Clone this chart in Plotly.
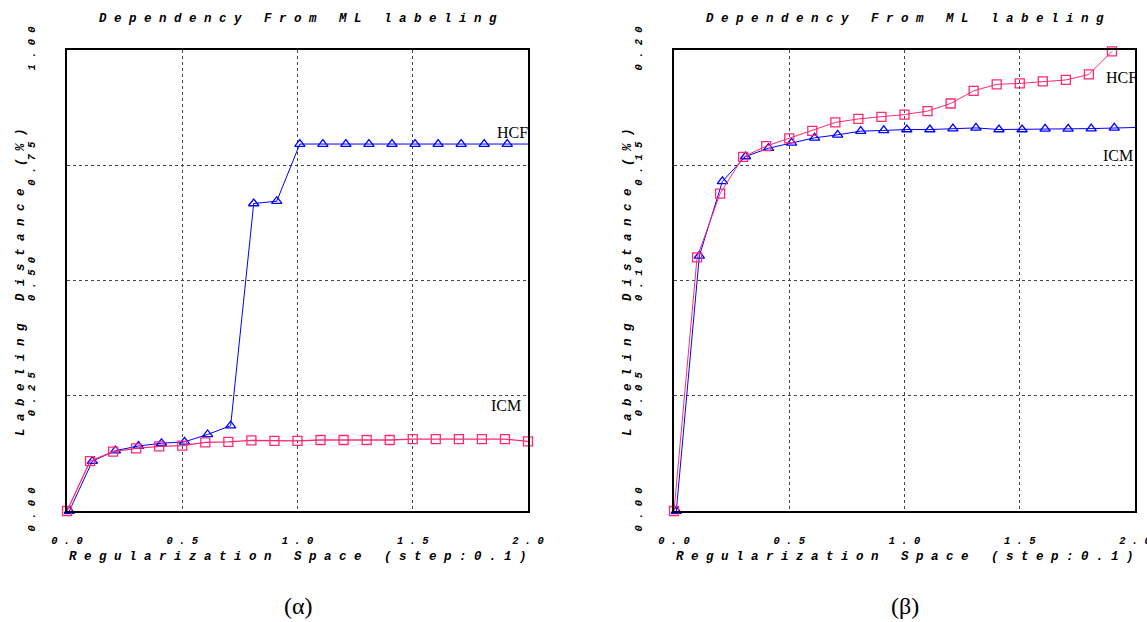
import plotly.graph_objects as go

# ---- data ----
x_icm_a = [0.0, 0.1, 0.2, 0.3, 0.4, 0.5, 0.6, 0.7, 0.8, 0.9, 1.0, 1.1, 1.2, 1.3, 1.4, 1.5, 1.6, 1.7, 1.8, 1.9, 2.0]
y_icm_a = [0.0, 0.108, 0.129, 0.136, 0.140, 0.142, 0.149, 0.150, 0.153, 0.152, 0.152, 0.154, 0.154, 0.154, 0.154,
           0.156, 0.156, 0.156, 0.156, 0.156, 0.151]
x_hcf_a = [0.01, 0.11, 0.21, 0.31, 0.41, 0.51, 0.61, 0.71, 0.81, 0.91, 1.01, 1.11, 1.21, 1.31, 1.41, 1.51, 1.61,
           1.71, 1.81, 1.91, 2.01]
y_hcf_a = [0.0, 0.108, 0.131, 0.141, 0.147, 0.150, 0.166, 0.185, 0.667, 0.672, 0.796, 0.796, 0.796, 0.796, 0.796,
           0.796, 0.796, 0.796, 0.796, 0.796, 0.796]

x_pink_b = [0.0, 0.1, 0.2, 0.3, 0.4, 0.5, 0.6, 0.7, 0.8, 0.9, 1.0, 1.1, 1.2, 1.3, 1.4, 1.5, 1.6, 1.7, 1.8, 1.9]
y_pink_b = [0.0, 0.110, 0.1377, 0.1536, 0.1583, 0.1617, 0.1649, 0.1686, 0.1701, 0.1710, 0.1720, 0.1735, 0.1768,
            0.1823, 0.1851, 0.1855, 0.1864, 0.1870, 0.1894, 0.1994]
x_blue_b = [0.01, 0.11, 0.21, 0.31, 0.41, 0.51, 0.61, 0.71, 0.81, 0.91, 1.01, 1.11, 1.21, 1.31, 1.41, 1.51, 1.61,
            1.71, 1.81, 1.91, 2.01]
y_blue_b = [0.0, 0.1107, 0.1430, 0.1538, 0.1574, 0.1597, 0.1619, 0.1632, 0.1648, 0.1651, 0.1655, 0.1655, 0.1659,
            0.1662, 0.1655, 0.1655, 0.1658, 0.1658, 0.1659, 0.1662, 0.1664]

x_ticks = [0.0, 0.5, 1.0, 1.5, 2.0]
x_ticktext = ["0 . 0", "0 . 5", "1 . 0", "1 . 5", "2 . 0"]
y_ticks_a = [0.0, 0.25, 0.5, 0.75, 1.0]
y_ticktext_a = ["0 . 0 0", "0 . 2 5", "0 . 5 0", "0 . 7 5", "1 . 0 0"]
y_ticks_b = [0.0, 0.05, 0.10, 0.15, 0.20]
y_ticktext_b = ["0 . 0 0", "0 . 0 5", "0 . 1 0", "0 . 1 5", "0 . 2 0"]

title_text = "Dependency From ML labeling"
xtitle_text = "Regularization Space (step:0.1)"
ytitle_text = "Labeling Distance (%)"


def spaced(s):
    return " ".join(list(s))


W, H = 1147, 622
BLUE = "#0000ff"
PINK = "#ff2a74"

fig = go.Figure()

fig.add_trace(go.Scatter(x=x_hcf_a, y=y_hcf_a, mode="lines+markers", xaxis="x", yaxis="y",
                         line=dict(color=BLUE, width=1),
                         marker=dict(symbol="triangle-up-open", size=9, color=BLUE, line=dict(width=1.3)),
                         cliponaxis=False, showlegend=False))
fig.add_trace(go.Scatter(x=x_icm_a, y=y_icm_a, mode="lines+markers", xaxis="x", yaxis="y",
                         line=dict(color=PINK, width=1.3),
                         marker=dict(symbol="square-open", size=9, color=PINK, line=dict(width=1.3)),
                         cliponaxis=False, showlegend=False))
fig.add_trace(go.Scatter(x=x_blue_b, y=y_blue_b, mode="lines+markers", xaxis="x2", yaxis="y2",
                         line=dict(color=BLUE, width=1),
                         marker=dict(symbol="triangle-up-open", size=9, color=BLUE, line=dict(width=1.3)),
                         cliponaxis=False, showlegend=False))
fig.add_trace(go.Scatter(x=x_pink_b, y=y_pink_b, mode="lines+markers", xaxis="x2", yaxis="y2",
                         line=dict(color=PINK, width=1),
                         marker=dict(symbol="square-open", size=9, color=PINK, line=dict(width=1.3)),
                         cliponaxis=False, showlegend=False))

tickfont = dict(family="Liberation Mono", size=10.5, color="black", weight="bold", style="italic")

y_dom = [1 - 511 / H, 1 - 50 / H]
common_x = dict(range=[0, 2], tickvals=x_ticks, ticktext=x_ticktext, showgrid=True, gridcolor="#444444",
                griddash="dot", gridwidth=1, showline=True, linecolor="black", linewidth=2, mirror=True,
                ticks="", zeroline=False, tickfont=tickfont, ticklabelstandoff=18, fixedrange=True,
                automargin=False, ticklabeloverflow="allow")
common_y = dict(showgrid=True, gridcolor="#444444", griddash="dot", gridwidth=1, showline=True,
                linecolor="black", linewidth=2, mirror=True, ticks="", zeroline=False, tickfont=tickfont,
                tickangle=-90, ticklabelstandoff=26, fixedrange=True, automargin=False,
                ticklabeloverflow="allow")

fig.update_layout(
    width=W, height=H, autosize=False, margin=dict(l=0, r=0, t=0, b=0, pad=0, autoexpand=False),
    paper_bgcolor="white", plot_bgcolor="white",
    xaxis=dict(domain=[67 / W, 528 / W], anchor="y", **common_x),
    yaxis=dict(domain=y_dom, anchor="x", range=[0, 1], tickvals=y_ticks_a, ticktext=y_ticktext_a, **common_y),
    xaxis2=dict(domain=[674 / W, 1135 / W], anchor="y2", **common_x),
    yaxis2=dict(domain=y_dom, anchor="x2", range=[0, 0.2], tickvals=y_ticks_b, ticktext=y_ticktext_b, **common_y),
)

tfont = dict(family="Liberation Mono", size=12.5, color="black", weight="bold", style="italic")
ann = []
for cx, ylab_x in [((67 + 528) / 2, 21), ((674 + 1135) / 2, 628)]:
    ann.append(dict(text=spaced(title_text), x=cx / W, y=1 - 19 / H, xref="paper",
                    yref="paper", showarrow=False, font=tfont, xanchor="center", yanchor="middle"))
    ann.append(dict(text=spaced(xtitle_text), x=cx / W, y=1 - 557 / H, xref="paper", yref="paper",
                    showarrow=False, font=tfont, xanchor="center", yanchor="middle"))
    ann.append(dict(text=spaced(ytitle_text), x=ylab_x / W, y=1 - 282 / H, xref="paper", yref="paper",
                    showarrow=False, font=tfont, xanchor="center", yanchor="middle", textangle=-90))

lfont = dict(family="Liberation Serif", size=16, color="black")
ann += [
    dict(text="HCF", x=1.857, y=0.82, xref="x", yref="y", xanchor="left", yanchor="middle", showarrow=False, font=lfont),
    dict(text="ICM", x=1.831, y=0.228, xref="x", yref="y", xanchor="left", yanchor="middle", showarrow=False, font=lfont),
    dict(text="HCF", x=1.866, y=0.1879, xref="x2", yref="y2", xanchor="left", yanchor="middle", showarrow=False, font=lfont),
    dict(text="ICM", x=1.852, y=0.1544, xref="x2", yref="y2", xanchor="left", yanchor="middle", showarrow=False, font=lfont),
]
cfont = dict(family="Liberation Serif", size=24, color="black")
ann += [
    dict(text="(α)", x=298 / W, y=1 - 606 / H, xref="paper", yref="paper", showarrow=False, font=cfont,
         xanchor="center", yanchor="middle"),
    dict(text="(β)", x=905 / W, y=1 - 606 / H, xref="paper", yref="paper", showarrow=False, font=cfont,
         xanchor="center", yanchor="middle"),
]
fig.update_layout(annotations=ann)

fig.write_html("out.html", config={"displayModeBar": False},
               post_script="document.body.style.margin='0';document.body.style.overflow='hidden';")
